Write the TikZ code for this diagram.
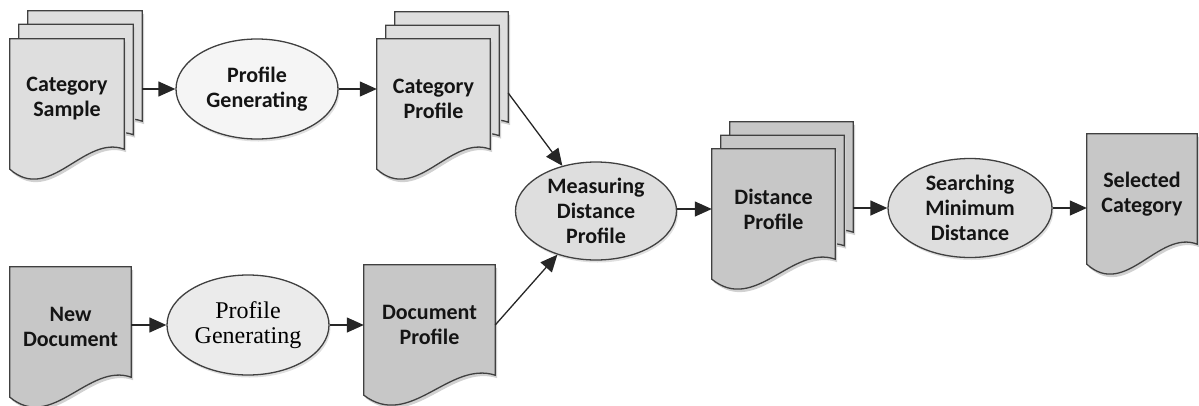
\documentclass[tikz,border=0pt]{standalone}
\usepackage{fontspec}
\setmainfont{Carlito}
\newfontfamily\myserif{Liberation Serif}
\usepackage{tikz}
\usetikzlibrary{
  shapes,       % Shape "ellipse"
  arrows.meta,
  backgrounds,  % Paper shapes go on layer "background"
  calc,
  shadows,      % "general shadow"
}
\def\mypaperh{120pt}
\tikzset{
  font=\bfseries\fontsize{22}{25}\selectfont,
  >={Triangle[length=17pt,width=15pt]},
  my page/.style={
    rectangle,
    minimum height=\mypaperh,
    inner sep=0pt,
    align=center,
    text=black!92
  },
  my proc/.style={
    ellipse,
    draw=black!75,
    line width=1.3pt,
    minimum width=162pt,
    minimum height=100pt,
    inner sep=0pt,
    align=center,
    text=black!92,
    general shadow={fill=black!12,shadow xshift=1.5pt,shadow yshift=-2.5pt}
  },
  my paper/.style={
    draw=black!75,
    line width=1.3pt,
    general shadow={fill=black!18,shadow xshift=2pt,shadow yshift=-3pt}
  },
  my arrow/.style={
    ->,
    line width=1.3pt,
    draw=black!85
  }
}
% Sheet with wavy lower edge, drawn round the node #1
\newcommand{\mypaper}[2]{
  \path[my paper,fill=#2] let \p1=(#1.north west), \p2=(#1.south east) in
    (\x1,\y1) -- (\x2,\y1) -- (\x2,{\y2+10pt})
    .. controls ({\x1+0.65*(\x2-\x1)},{\y2+25pt}) and ({\x1+0.35*(\x2-\x1)},{\y2-45pt})
    .. (\x1,{\y2-10pt}) -- cycle;
}
\begin{document}
\begin{tikzpicture}[x=1pt,y=-1pt]
\useasboundingbox (0,0) rectangle (1199,405);
% upper row
\node[my page,minimum width=114pt] (cs3) at (85,71)     {};
\node[my page,minimum width=114pt] (cs2) at (76,84.5)   {};
\node[my page,minimum width=114pt] (cs)  at (67,99)     {Category\\Sample};
\node[my proc,fill=black!4]        (pg1) at (257,89)    {Profile\\Generating};
\node[my page,minimum width=113pt] (cp3) at (451.5,72)  {};
\node[my page,minimum width=113pt] (cp2) at (442.5,85.5){};
\node[my page,minimum width=113pt] (cp)  at (433.5,99)  {Category\\Profile};
% lower row
\node[my page,minimum width=121pt] (nd)  at (70.5,327)  {New\\Document};
\node[my proc,fill=black!8,font=\myserif\fontsize{24}{25}\selectfont,text=black]
                                   (pg2) at (248,325)   {Profile\\Generating};
\node[my page,minimum width=131pt] (dp)  at (429.5,325) {Document\\Profile};
% right part
\node[my proc,fill=black!13,minimum width=161pt,minimum height=98pt]
                                   (ms)  at (596,211)   {Measuring\\Distance\\Profile};
\node[my page,minimum width=123pt] (dd3) at (791.5,182) {};
\node[my page,minimum width=123pt] (dd2) at (782.5,195.5){};
\node[my page,minimum width=123pt] (dd)  at (773.5,209) {Distance\\Profile};
\node[my proc,fill=black!13,minimum width=164pt,minimum height=99pt]
                                   (sm)  at (970,208)   {Searching\\Minimum\\Distance};
\node[my page,minimum width=110pt] (sc)  at (1142,194)  {Selected\\Category};

\begin{scope}[on background layer]
  \mypaper{cs3}{black!13} \mypaper{cs2}{black!13} \mypaper{cs}{black!13}
  \mypaper{cp3}{black!13} \mypaper{cp2}{black!13} \mypaper{cp}{black!13}
  \mypaper{nd}{black!22}
  \mypaper{dp}{black!22}
  \mypaper{dd3}{black!22} \mypaper{dd2}{black!22} \mypaper{dd}{black!22}
  \mypaper{sc}{black!22}
\end{scope}

\draw[my arrow] (cs3.east |- pg1) -- (pg1);
\draw[my arrow] (pg1) -- (cp.west |- pg1);
\draw[my arrow] ([yshift=-21pt]cp3.east) -- (ms);
\draw[my arrow] (nd.east |- pg2) -- (pg2);
\draw[my arrow] (pg2) -- (dp.west |- pg2);
\draw[my arrow] (dp.east) -- (ms);
\draw[my arrow] (ms.east |- dd) -- (dd.west);
\draw[my arrow] (dd3.east |- sm) -- (sm);
\draw[my arrow] (sm) -- (sc.west |- sm);
\end{tikzpicture}
\end{document}
